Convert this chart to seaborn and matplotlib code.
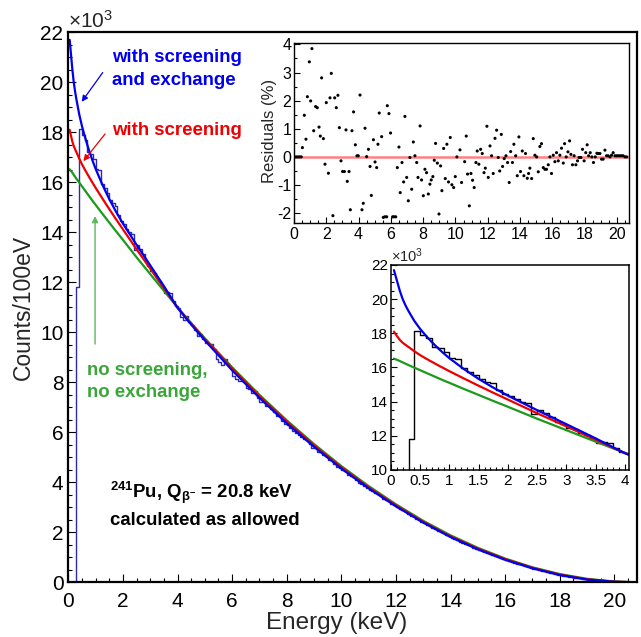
import numpy as np
import pandas as pd
import matplotlib
matplotlib.use("Agg")
import matplotlib.pyplot as plt
import seaborn as sns
from matplotlib.ticker import MultipleLocator, FuncFormatter

# ---------------- data (counts in units of 10^3 per 100 eV) ----------------
bin_width_kev = 0.1
hist_counts = [
    0.0, 0.0, 0.0, 11.8, 18.14, 17.9, 17.7, 17.22, 17.12, 16.93,
    16.54, 16.48, 15.95, 15.76, 15.56, 15.3, 15.17, 15.07, 14.68, 14.45,
    14.35, 14.14, 14.0, 13.94, 13.28, 13.51, 13.32, 13.12, 12.83, 12.67,
    12.44, 12.38, 12.19, 12.05, 11.85, 11.56, 11.62, 11.56, 11.27, 11.07,
    10.98,
    10.60, 10.49, 10.65, 10.41, 10.30, 10.11, 9.87, 9.94, 9.73,
    9.58, 9.54, 9.53, 9.33, 8.94, 8.83, 8.71, 8.94, 8.79, 8.61,
    8.25, 8.14, 8.04, 8.07, 8.02, 7.78, 7.75, 7.59, 7.66, 7.39,
    7.22, 7.23, 7.04, 7.06, 6.92, 6.81, 6.67, 6.68, 6.46, 6.32,
    6.28, 6.19, 6.04, 5.97, 5.89, 5.80, 5.74, 5.69, 5.55, 5.36,
    5.36, 5.23, 5.22, 5.08, 5.05, 4.90, 4.88, 4.72, 4.63, 4.56,
    4.51, 4.44, 4.31, 4.26, 4.22, 4.09, 3.97, 3.94, 3.85, 3.76,
    3.71, 3.66, 3.57, 3.52, 3.44, 3.34, 3.28, 3.26, 3.13, 3.09,
    3.01, 2.92, 2.90, 2.84, 2.75, 2.67, 2.64, 2.54, 2.49, 2.42,
    2.36, 2.28, 2.24, 2.19, 2.14, 2.07, 2.00, 1.96, 1.89, 1.84,
    1.78, 1.74, 1.68, 1.63, 1.58, 1.53, 1.50, 1.44, 1.39, 1.33,
    1.30, 1.27, 1.22, 1.17, 1.12, 1.09, 1.05, 1.00, 0.96, 0.92,
    0.88, 0.85, 0.82, 0.78, 0.75, 0.72, 0.68, 0.64, 0.61, 0.58,
    0.55, 0.52, 0.49, 0.47, 0.44, 0.41, 0.38, 0.36, 0.33, 0.30,
    0.28, 0.26, 0.245, 0.227, 0.209, 0.191, 0.173, 0.155, 0.137, 0.119,
    0.105, 0.097, 0.088, 0.079, 0.070, 0.061, 0.052, 0.043, 0.034, 0.025,
    0.019, 0.017, 0.014, 0.012, 0.009, 0.007, 0.004, 0.002,
]

curve_energy = [0.05, 0.1, 0.15, 0.2, 0.25, 0.3, 0.4, 0.5, 0.6, 0.7, 0.8, 0.9, 1.0,
                1.25, 1.5, 1.75, 2.0, 2.5, 3.0, 3.5, 4.0, 4.5, 5, 6, 7, 8, 9, 10,
                11, 12, 13, 14, 15, 16, 17, 18, 19, 20, 20.8]
curve_screening_exchange = [21.70, 21.10, 20.50, 20.00, 19.62, 19.30, 18.72, 18.25, 17.85,
                            17.48, 17.14, 16.83, 16.54, 15.90, 15.33, 14.82, 14.35, 13.50,
                            12.68, 11.85, 10.98, 10.31, 9.68, 8.48, 7.38, 6.36, 5.42, 4.55,
                            3.76, 3.04, 2.39, 1.81, 1.32, 0.90, 0.56, 0.29, 0.11, 0.02, 0.0]
curve_screening = [18.10, 17.85, 17.62, 17.45, 17.32, 17.20, 16.95, 16.72, 16.52, 16.33,
                   16.14, 15.96, 15.78, 15.35, 14.93, 14.52, 14.12, 13.32, 12.55, 11.77,
                   10.99, 10.34, 9.73, 8.56, 7.45, 6.43, 5.48, 4.60, 3.80, 3.08, 2.42,
                   1.84, 1.35, 0.93, 0.58, 0.31, 0.12, 0.025, 0.0]
curve_none = [16.52, 16.45, 16.38, 16.30, 16.22, 16.14, 15.99, 15.84, 15.69, 15.54, 15.39,
              15.24, 15.10, 14.74, 14.39, 14.04, 13.70, 13.00, 12.33, 11.66, 11.00, 10.37,
              9.76, 8.60, 7.50, 6.48, 5.53, 4.65, 3.85, 3.12, 2.46, 1.88, 1.38, 0.95,
              0.60, 0.33, 0.14, 0.03, 0.0]

resid_energy = [0.05, 0.15, 0.25, 0.35, 0.45,
                0.52, 0.64, 0.74, 0.83, 0.95, 1.03, 1.11, 1.22, 1.34, 1.44, 1.55, 1.63, 1.71,
                1.82, 1.92, 2.0, 2.13, 2.23, 2.31, 2.41, 2.52, 2.62, 2.72, 2.81, 2.91, 3.01,
                3.12, 3.22, 3.3, 3.41, 3.49, 3.59, 3.69, 3.8, 3.9, 3.98,
                4.09, 4.21, 4.29, 4.4, 4.5, 4.61, 4.71, 4.79, 4.92, 5.02, 5.12, 5.2, 5.28,
                5.43, 5.53, 5.63, 5.74, 5.78, 5.88, 5.98, 6.11, 6.19, 6.3, 6.4, 6.5, 6.58,
                6.69, 6.79, 6.87, 6.98, 7.08, 7.18, 7.29, 7.39, 7.49, 7.6, 7.68, 7.81, 7.9,
                8.01, 8.11, 8.21, 8.32, 8.42, 8.5, 8.6, 8.69, 8.77, 8.88, 8.98, 9.08, 9.16,
                9.27, 9.37, 9.47, 9.57, 9.68, 9.78, 9.89, 9.99, 10.09, 10.28, 10.38, 10.57,
                10.67, 10.75, 10.86, 10.96, 11.06, 11.16, 11.27, 11.35, 11.45, 11.56, 11.66,
                11.77, 11.85, 11.95, 12.03, 12.14, 12.24, 12.34, 12.45, 12.55, 12.65, 12.74,
                12.84, 12.92, 13.02, 13.13, 13.23, 13.33, 13.42, 13.53, 13.62, 13.73, 13.83,
                13.93, 14.03, 14.14, 14.24, 14.34, 14.45, 14.53, 14.61, 14.72, 14.82, 14.92,
                15.03, 15.13, 15.23, 15.33, 15.44, 15.54, 15.64, 15.75, 15.85, 15.95, 16.06,
                16.16, 16.26, 16.37, 16.47, 16.57, 16.68, 16.76, 16.86, 16.97, 17.07, 17.15,
                17.25, 17.35, 17.46, 17.56, 17.66, 17.77, 17.87, 17.97, 18.07, 18.16, 18.25,
                18.35, 18.45, 18.55, 18.66, 18.76, 18.84, 18.95, 19.05, 19.15, 19.26, 19.36,
                19.46, 19.57, 19.67, 19.77, 19.88, 19.98, 20.08, 20.19, 20.29, 20.39, 20.5,
                20.6]
resid_pct = [0, 0, 0, 0, 0,
             0.33, 1.48, 0.63, 2.14, 3.38, 1.99, 3.85, 0.93, 1.79, 1.75, 1.06, 0.74, 2.81,
             0.65, -0.26, 1.93, -0.58, 2.1, 2.97, -2.09, 2.1, 1.75, 2.19, 1.04, -0.14, -0.52,
             -0.52, 0.96, -0.87, -0.52, -1.88, 0.93, 1.6, 0.43, 0.04, 0.04,
             2.2, -1.88, -1.65, 1.02, 0.01, 0.27, -0.34, -1.37, 0.61, -0.18, -0.38, 0.45, 1.56,
             0.72, -2.15, -2.13, -2.13, 1.82, 1.54, 0.85, -2.13, -2.13, -2.13, -0.38, 0.35, -1.27,
             -0.2, -0.89, 1.44, -0.73, -1.56, -0.02, -1.15, 0.53, 0.04, -0.2, -0.73, 1.1, -0.82,
             -1.38, -0.44, -0.56, -1.32, -0.97, -0.82, -0.7, -0.12, 0.48, -0.22, -2.03, -0.32, -1.2,
             0.3, -0.77, 0.45, -0.89, 0.69, -0.99, -1.09, -0.7, 0.0, 0.25, -0.91, -0.17,
             0.74, -0.61, -1.74, -0.59, -0.83, -1.09, -0.2, 0.21, -0.26, 0.27, 0.12,
             -0.56, -0.4, 1.09, -0.73, 0.39, 0.04, -0.59, 0.66, 0.95, -0.02, -0.5,
             0.8, -0.34, -0.06, 0.04, -0.2, -0.91, 0.19, -0.2, 0.45, 0.04, -0.67,
             0.71, -0.52, 0.21, -0.67, 0.12, -0.76, -0.59, -0.4, -0.77, 0.65, 0.06,
             0.0, -0.53, 0.37, 0.47, -0.38, -0.44, -0.44, -0.28, 0.0, -0.59, 0.06,
             -0.17, 0.15, -0.14, 0.06, 0.31, -0.22, 0.47, 0.0, 0.18, 0.57, 0.09,
             -0.28, 0.04, -0.28, -0.14, -0.02, -0.02, 0.27, -0.14, 0.15, 0.43, 0.04,
             0.15, 0.0, -0.2, 0.0, 0.13, 0.12, 0.12, -0.08, -0.08, 0.24, 0.04,
             0.04, 0.0, 0.06, 0.15, 0.04, 0.04, 0.04, 0.04, 0.04, 0.04, 0.0,
             0.0]

# ---------------- style ----------------
sns.set_theme(style="ticks")
plt.rcParams["font.family"] = ["Liberation Sans", "DejaVu Sans"]
plt.rcParams["mathtext.fontset"] = "custom"
plt.rcParams["mathtext.rm"] = "Liberation Sans"
plt.rcParams["mathtext.bf"] = "Liberation Sans:bold"
plt.rcParams["mathtext.it"] = "Liberation Sans:italic"

BLUE = "#0000ee"
RED = "#ee0000"
GREEN = "#1a9a1a"
GREEN_TXT = "#3aa63a"
HIST_BLUE = "#2b2bb0"
ANN_FS = 13.4

n_bins = len(hist_counts)
edges = np.arange(n_bins + 1) * bin_width_kev
centers = edges[:-1] + bin_width_kev / 2
hist_df = pd.DataFrame({"energy": centers, "counts": hist_counts})
curves = pd.DataFrame({"energy": curve_energy,
                       "exch": curve_screening_exchange,
                       "scr": curve_screening,
                       "none": curve_none})
resid_df = pd.DataFrame({"energy": resid_energy, "resid": resid_pct})

W, H = 641, 637
fig = plt.figure(figsize=(W / 100, H / 100), dpi=100)
gfmt = FuncFormatter(lambda v, p: f"{v:g}")


def px_axes(left, top, right, bottom):
    return fig.add_axes([left / W, 1 - bottom / H, (right - left) / W, (bottom - top) / H])


def draw_hist(a, color):
    sns.histplot(data=hist_df, x="energy", weights="counts", binwidth=bin_width_kev,
                 binrange=(float(edges[0]), float(edges[-1])), element="step",
                 fill=False, color=color, linewidth=1.0, ax=a)


def draw_curves(a, lw):
    sns.lineplot(data=curves, x="energy", y="none", color=GREEN, lw=lw, ax=a, sort=False)
    sns.lineplot(data=curves, x="energy", y="scr", color=RED, lw=lw, ax=a, sort=False)
    sns.lineplot(data=curves, x="energy", y="exch", color=BLUE, lw=lw, ax=a, sort=False)


def style_axes(a, spine_w, fs, maj_len, min_len):
    for s in a.spines.values():
        s.set_linewidth(spine_w)
        s.set_color("black")
    a.tick_params(which="both", direction="in", top=False, right=False, colors="black",
                  labelsize=fs, width=0.8)
    a.tick_params(which="major", length=maj_len)
    a.tick_params(which="minor", length=min_len)
    a.xaxis.set_major_formatter(gfmt)
    a.yaxis.set_major_formatter(gfmt)
    a.set_xlabel("")
    a.set_ylabel("")


# ---------------- main axes ----------------
ax = px_axes(68.3, 32.3, 637, 582.3)
draw_hist(ax, HIST_BLUE)
draw_curves(ax, 1.6)
ax.set_xlim(0, 20.83)
ax.set_ylim(0, 22)
ax.xaxis.set_major_locator(MultipleLocator(2))
ax.xaxis.set_minor_locator(MultipleLocator(0.5))
ax.yaxis.set_major_locator(MultipleLocator(2))
ax.yaxis.set_minor_locator(MultipleLocator(0.5))
style_axes(ax, 1.6, 15, 6, 3)
ax.tick_params(axis="x", pad=7)
ax.tick_params(axis="y", pad=3.5)
ax.set_xlabel("Energy (keV)", fontsize=17.5)
ax.xaxis.label.set_va("center")
ax.xaxis.set_label_coords(0.4725, -0.074)
ax.set_ylabel("Counts/100eV", fontsize=16.5)
ax.yaxis.label.set_va("center")
ax.yaxis.set_label_coords(-0.079, 0.5)
ax.text(0.0, 1.0, r"$\times$10$^{3}$", transform=ax.transAxes, fontsize=15,
        ha="left", va="bottom")

ax.text(1.6, 21.0, "with screening", color=BLUE, fontsize=ANN_FS, fontweight="bold", va="center")
ax.text(1.6, 20.08, "and exchange", color=BLUE, fontsize=ANN_FS, fontweight="bold", va="center")
ax.text(1.6, 18.09, "with screening", color=RED, fontsize=ANN_FS, fontweight="bold", va="center")
ax.text(0.68, 8.49, "no screening,", color=GREEN_TXT, fontsize=ANN_FS, fontweight="bold",
        va="center")
ax.text(0.68, 7.58, "no exchange", color=GREEN_TXT, fontsize=ANN_FS, fontweight="bold",
        va="center")
ax.text(1.53, 3.57, r"$\mathbf{^{241}}$Pu, Q$_{\mathbf{\beta^{-}}}$ = 20.8 keV", color="black",
        fontsize=ANN_FS, fontweight="bold", va="center")
ax.text(1.53, 2.46, "calculated as allowed", color="black", fontsize=ANN_FS, fontweight="bold",
        va="center")

ax.annotate("", xy=(0.43, 19.13), xytext=(1.32, 20.48),
            arrowprops=dict(arrowstyle="-|>", color=BLUE, lw=0.9, mutation_scale=9))
ax.annotate("", xy=(0.49, 16.76), xytext=(1.41, 18.02),
            arrowprops=dict(arrowstyle="-|>", color=RED, lw=0.9, mutation_scale=9))
ax.annotate("", xy=(0.98, 14.76), xytext=(0.98, 9.42),
            arrowprops=dict(arrowstyle="-|>", color="#5cb85c", lw=1.0, mutation_scale=9))

# ---------------- residuals inset ----------------
axr = px_axes(294, 43, 629, 223)
axr.set_facecolor("white")
axr.axhline(0, color="#ff6060", lw=1.8, alpha=0.8, zorder=1)
sns.scatterplot(data=resid_df, x="energy", y="resid", s=5, color="black",
                edgecolor="none", ax=axr, zorder=3)
axr.set_xlim(0, 20.75)
axr.set_ylim(-2.35, 4.05)
axr.xaxis.set_major_locator(MultipleLocator(2))
axr.xaxis.set_minor_locator(MultipleLocator(0.5))
axr.yaxis.set_major_locator(MultipleLocator(1))
axr.yaxis.set_minor_locator(MultipleLocator(0.5))
style_axes(axr, 1.0, 11.5, 4, 2)
axr.tick_params(axis="x", pad=3)
axr.tick_params(axis="y", pad=2)
axr.set_ylabel("Residuals (%)", fontsize=12)
axr.yaxis.label.set_va("center")
axr.yaxis.set_label_coords(-0.072, 0.51)

# ---------------- zoom inset ----------------
axi = px_axes(391, 265, 629, 470)
axi.set_facecolor("white")
draw_hist(axi, "black")
draw_curves(axi, 1.6)
axi.set_xlim(0, 4.07)
axi.set_ylim(10, 22)
axi.xaxis.set_major_locator(MultipleLocator(0.5))
axi.xaxis.set_minor_locator(MultipleLocator(0.1))
axi.yaxis.set_major_locator(MultipleLocator(2))
axi.yaxis.set_minor_locator(MultipleLocator(0.5))
style_axes(axi, 1.1, 11, 4, 2)
axi.tick_params(axis="x", pad=3)
axi.tick_params(axis="y", pad=2)
axi.text(0.0, 1.0, r"$\times$10$^{3}$", transform=axi.transAxes, fontsize=10.5,
         ha="left", va="bottom")

fig.savefig("out.png", dpi=100)
